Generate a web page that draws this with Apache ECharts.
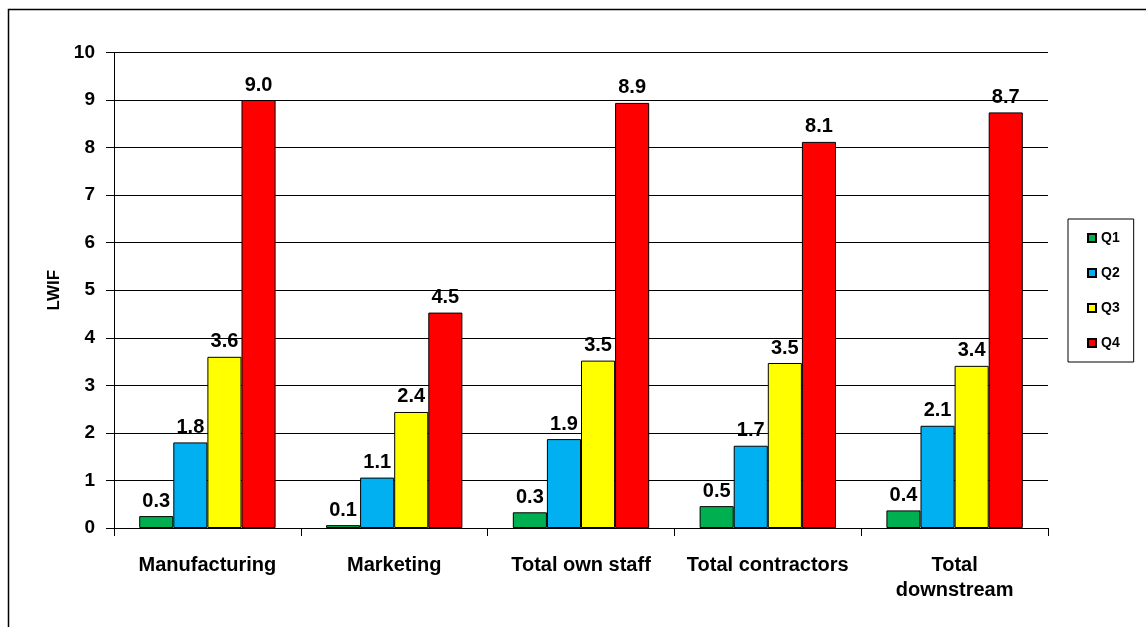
<!DOCTYPE html>
<html>
<head>
<meta charset="utf-8">
<script src="https://cdn.jsdelivr.net/npm/echarts@6/dist/echarts.min.js"></script>
<style>html,body{margin:0;padding:0;background:#fff;}#c{width:1146px;height:627px;}</style>
</head>
<body>
<div id="c"></div>
<script>
const categories = ['Manufacturing', 'Marketing', 'Total own staff', 'Total contractors', 'Total\ndownstream'];
const seriesNames = ['Q1', 'Q2', 'Q3', 'Q4'];
const q1 = [0.25, 0.06, 0.33, 0.46, 0.37];
const q2 = [1.80, 1.06, 1.87, 1.73, 2.15];
const q3 = [3.60, 2.44, 3.52, 3.47, 3.41];
const q4 = [9.00, 4.53, 8.94, 8.12, 8.74];
const colors = ['#00B050', '#00B0F0', '#FFFF00', '#FF0000'];
const yTicks = { min: 0, max: 10, interval: 1 };
const yTitle = 'LWIF';

const allData = [q1, q2, q3, q4];
const font = 'Arial, "Liberation Sans", sans-serif';

const chart = echarts.init(document.getElementById('c'), null, { renderer: 'canvas' });
chart.setOption({
  animation: false,
  backgroundColor: '#fff',
  graphic: [{
    type: 'rect',
    shape: { x: 8.5, y: 9.5, width: 1300, height: 800 },
    style: { fill: 'none', stroke: '#000', lineWidth: 1.5 },
    silent: true
  }],
  grid: { left: 114, right: 98, top: 52.5, bottom: 99 },
  legend: {
    orient: 'vertical',
    left: 1068, top: 219,
    padding: [12, 14, 12, 19],
    borderColor: '#000', borderWidth: 1,
    itemWidth: 8, itemHeight: 8, itemGap: 21,
    icon: 'rect',
    textStyle: { fontFamily: font, fontWeight: 'bold', fontSize: 14, color: '#000', lineHeight: 14 },
    data: seriesNames
  },
  xAxis: {
    type: 'category',
    data: categories,
    axisLine: { lineStyle: { color: '#000', width: 1 } },
    axisTick: { show: true, inside: false, length: 8, lineStyle: { color: '#000' } },
    axisLabel: { fontFamily: font, fontWeight: 'bold', fontSize: 20, color: '#000', margin: 25, lineHeight: 25, interval: 0 }
  },
  yAxis: {
    type: 'value',
    min: yTicks.min, max: yTicks.max, interval: yTicks.interval,
    name: yTitle,
    nameLocation: 'middle',
    nameGap: 50,
    nameRotate: 90,
    nameTextStyle: { fontFamily: font, fontWeight: 'bold', fontSize: 17, color: '#000' },
    axisLine: { show: true, lineStyle: { color: '#000', width: 1 } },
    axisTick: { show: true, inside: false, length: 8, lineStyle: { color: '#000' } },
    axisLabel: { fontFamily: font, fontWeight: 'bold', fontSize: 19, color: '#000', margin: 19 },
    splitLine: { show: true, lineStyle: { color: '#000', width: 1 } }
  },
  series: seriesNames.map((n, i) => ({
    name: n,
    type: 'bar',
    data: allData[i],
    barGap: '0%',
    barCategoryGap: '27%',
    itemStyle: { color: colors[i], borderColor: '#000', borderWidth: 1 },
    label: {
      show: true, position: 'top', distance: 5,
      fontFamily: font, fontWeight: 'bold', fontSize: 20, color: '#000',
      formatter: p => p.value.toFixed(1)
    }
  }))
});
</script>
</body>
</html>
